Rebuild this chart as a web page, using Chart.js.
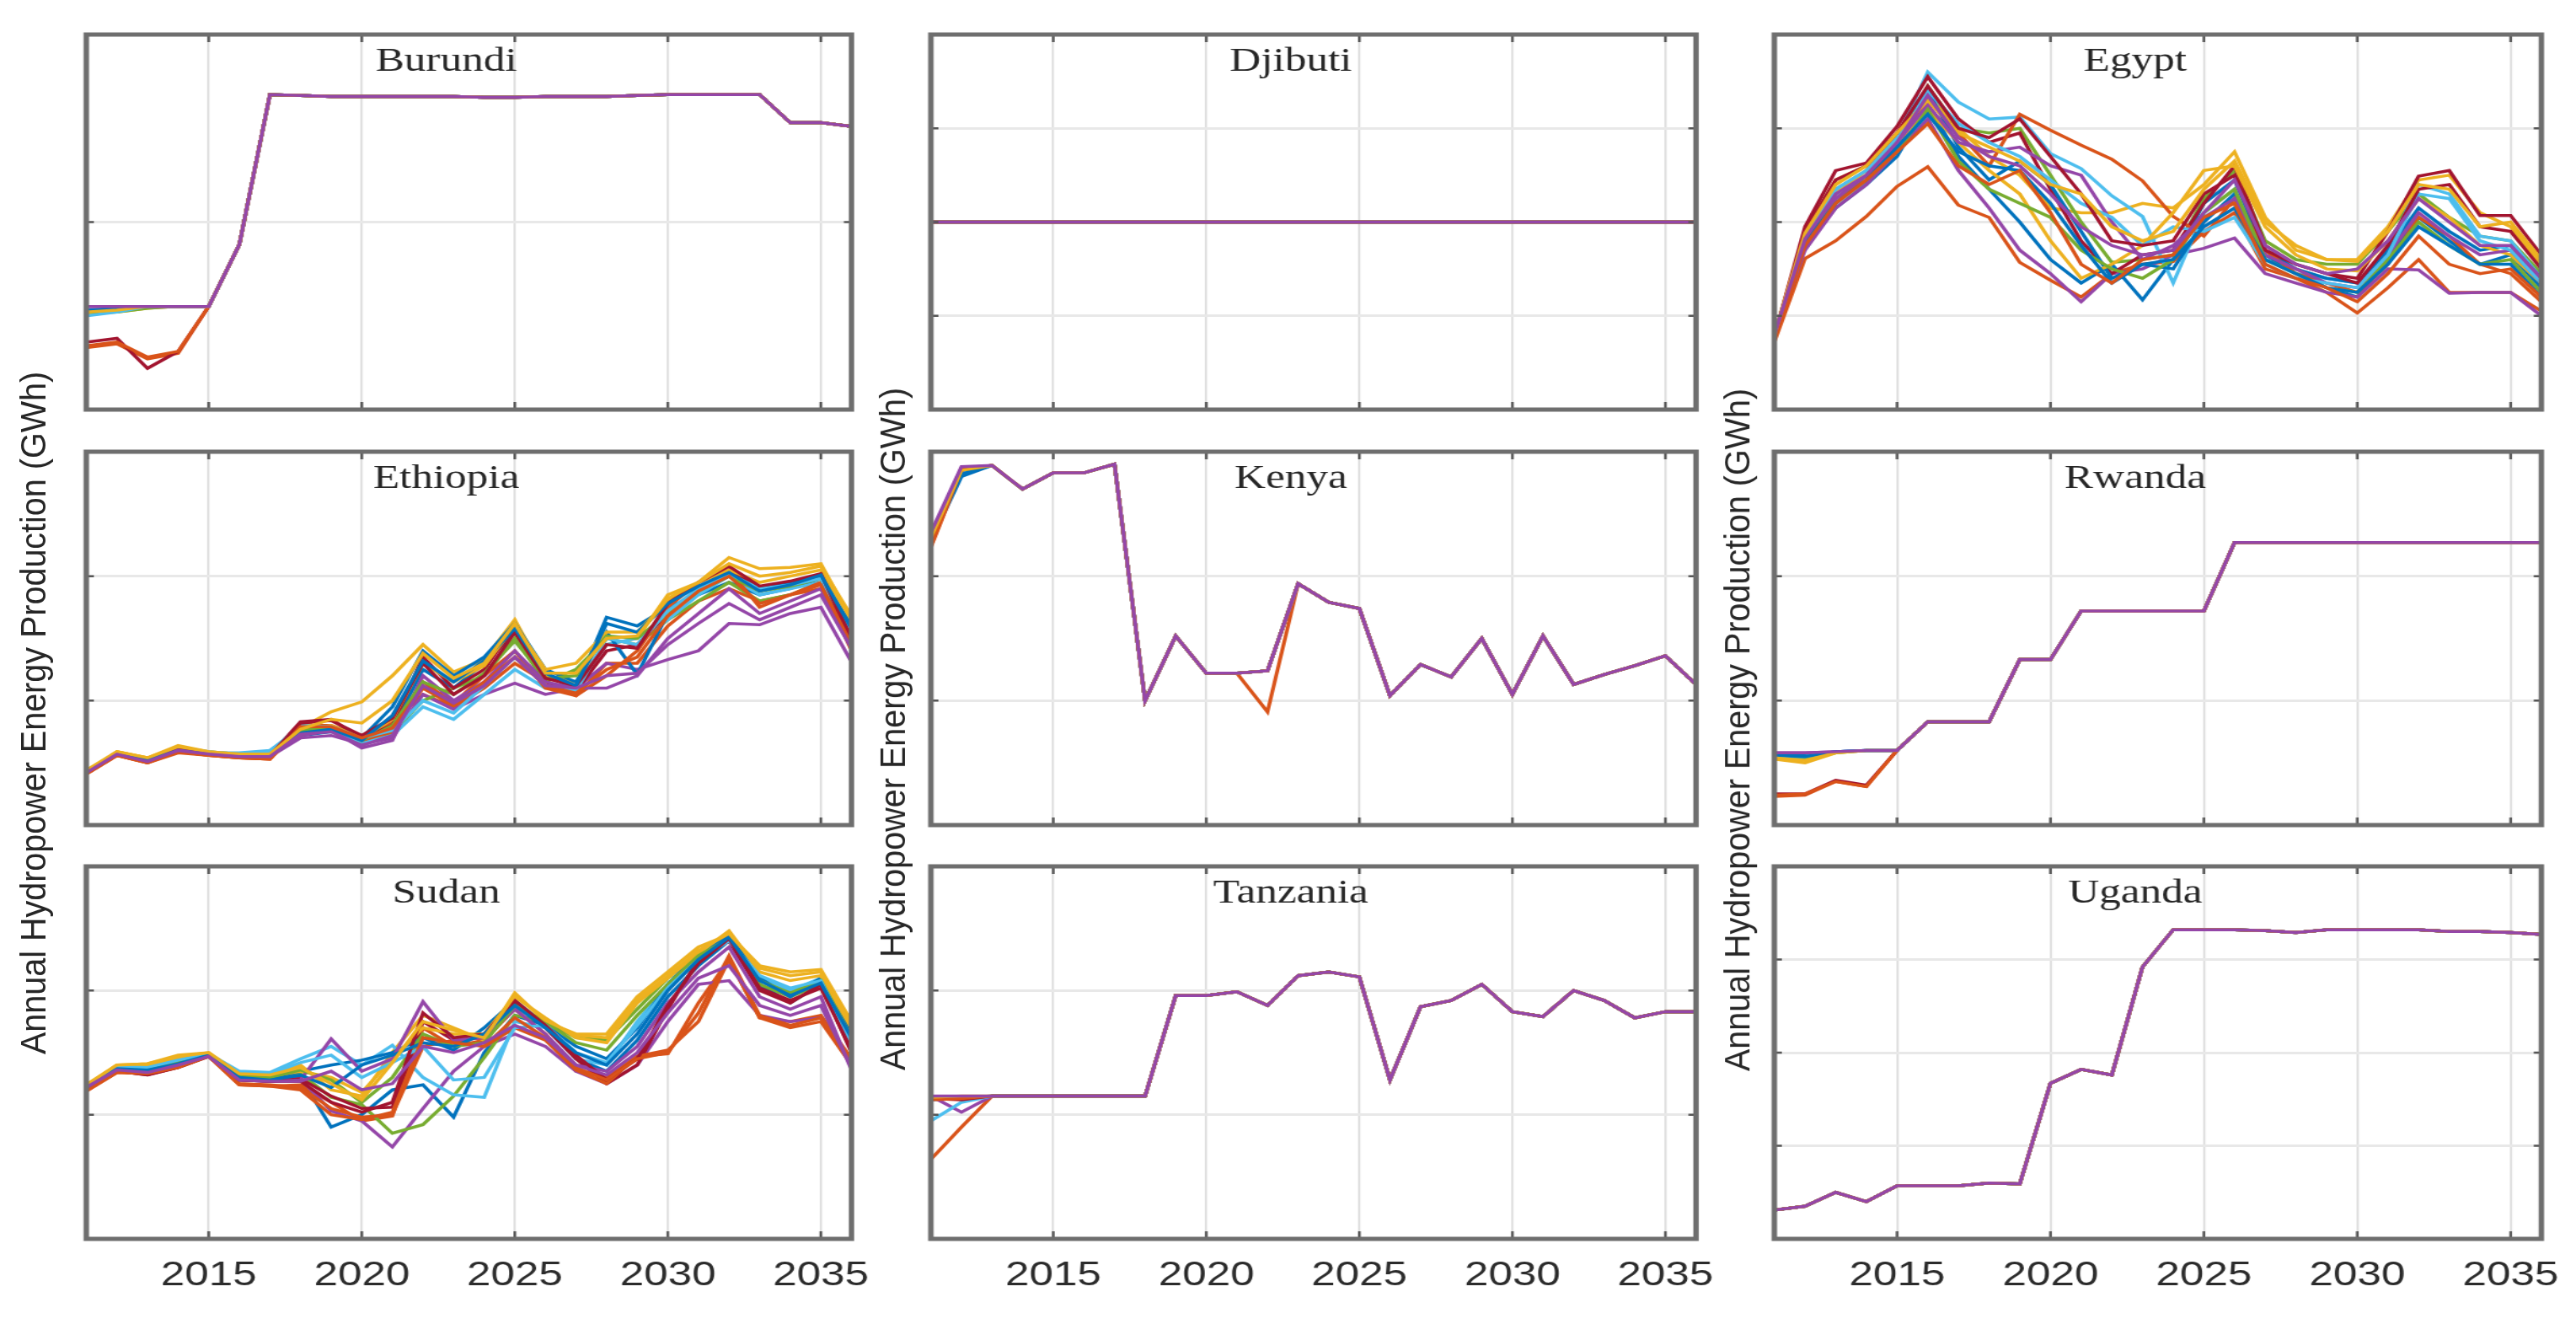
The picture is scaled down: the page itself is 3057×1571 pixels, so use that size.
<!DOCTYPE html>
<html>
<head>
<meta charset="utf-8">
<script src="https://cdn.jsdelivr.net/npm/chart.js@4.4.1/dist/chart.umd.min.js"></script>
<style>
html, body { margin: 0; padding: 0; background: #fff; }
#fig { position: absolute; left: 0; top: 0; width: 2388px; height: 1571px; transform: scaleX(1.28); transform-origin: 0 0; }
.panel { position: absolute; }
.ylab { position: absolute; font-family: "Liberation Sans", Arial, sans-serif; font-size: 39.5px; color: #262626; white-space: nowrap; transform: translate(-50%, -50%) rotate(-90deg) scaleY(0.83); }
</style>
</head>
<body>
<div id="fig"></div>
<script>
// the picture is stretched sideways, so everything is laid out narrower and scaled
const STRETCH = 1.28;

const years = [2011, 2012, 2013, 2014, 2015, 2016, 2017, 2018, 2019, 2020, 2021, 2022, 2023,
               2024, 2025, 2026, 2027, 2028, 2029, 2030, 2031, 2032, 2033, 2034, 2035, 2036];
const yearTicks = [2015, 2020, 2025, 2030, 2035];
const yTitle = 'Annual Hydropower Energy Production (GWh)';
const lineColors = ['#0072BD', '#D95319', '#EDB120', '#9446A8', '#77AC30', '#4DBEEE', '#A2142F'];

// y values are in grid units (no tick labels in the original)
const burundiMain = [0.55, 0.55, 0.55, 0.55, 0.55, 0.88, 1.68, 1.675, 1.67, 1.67, 1.67, 1.67, 1.67,
                     1.665, 1.665, 1.67, 1.67, 1.67, 1.675, 1.68, 1.68, 1.68, 1.68, 1.53, 1.53, 1.51];
const burundiStart = [
  [0.52, 0.53, 0.55, 0.55], [0.33, 0.35, 0.27, 0.30], [0.51, 0.52, 0.54, 0.55], [0.55, 0.55, 0.55, 0.55],
  [0.52, 0.52, 0.54, 0.55], [0.50, 0.52, 0.55, 0.55], [0.36, 0.38, 0.22, 0.31], [0.53, 0.54, 0.55, 0.55],
  [0.34, 0.36, 0.28, 0.31], [0.52, 0.53, 0.55, 0.55], [0.55, 0.55, 0.55, 0.55]
];

const djibutiMain = [2, 2, 2, 2, 2, 2, 2, 2, 2, 2, 2, 2, 2, 2, 2, 2, 2, 2, 2, 2, 2, 2, 2, 2, 2, 2];

const egyptRuns = [
  [0.78, 1.75, 2.15, 2.40, 2.70, 3.25, 2.70, 2.35, 2.00, 1.60, 1.35, 1.55, 1.17, 1.60, 2.20, 2.45, 1.65, 1.45, 1.30, 1.20, 1.60, 2.05, 1.80, 1.55, 1.65, 1.30],
  [0.72, 1.61, 1.80, 2.06, 2.38, 2.59, 2.18, 2.05, 1.57, 1.38, 1.20, 1.45, 1.55, 1.58, 1.90, 2.10, 1.50, 1.40, 1.25, 1.03, 1.30, 1.60, 1.25, 1.25, 1.25, 1.05],
  [0.80, 1.90, 2.45, 2.60, 2.95, 3.35, 3.00, 2.70, 2.50, 2.15, 2.10, 2.10, 2.20, 2.15, 2.40, 2.75, 2.05, 1.70, 1.60, 1.60, 1.95, 2.45, 2.50, 2.10, 1.95, 1.55],
  [0.82, 1.70, 2.15, 2.40, 2.75, 3.10, 2.55, 2.15, 1.70, 1.45, 1.15, 1.45, 1.50, 1.65, 1.72, 1.83, 1.45, 1.35, 1.25, 1.20, 1.50, 1.49, 1.24, 1.25, 1.25, 1.00],
  [0.80, 1.85, 2.35, 2.55, 2.90, 3.45, 3.00, 2.95, 3.00, 2.50, 2.00, 1.57, 1.60, 1.65, 2.25, 2.55, 1.80, 1.60, 1.55, 1.55, 1.90, 2.30, 2.05, 1.85, 1.80, 1.45],
  [0.80, 1.85, 2.35, 2.55, 2.90, 3.60, 3.28, 3.10, 3.12, 2.73, 2.57, 2.28, 2.06, 1.35, 2.10, 2.35, 1.60, 1.45, 1.40, 1.35, 1.70, 2.40, 2.30, 1.85, 1.80, 1.40],
  [0.78, 1.95, 2.55, 2.63, 3.02, 3.55, 3.10, 2.85, 2.95, 2.35, 1.80, 1.45, 1.65, 1.70, 2.20, 2.60, 1.75, 1.55, 1.45, 1.40, 1.90, 2.49, 2.55, 2.07, 2.07, 1.65],
  [0.80, 1.80, 2.25, 2.50, 2.80, 3.40, 2.80, 2.45, 2.65, 2.40, 1.90, 1.40, 1.55, 1.50, 2.00, 2.30, 1.70, 1.50, 1.40, 1.35, 1.70, 2.15, 1.90, 1.70, 1.75, 1.40],
  [0.78, 1.80, 2.25, 2.45, 2.80, 3.30, 2.95, 2.60, 3.15, 2.98, 2.82, 2.67, 2.44, 2.06, 1.85, 2.25, 1.70, 1.45, 1.35, 1.25, 1.55, 2.05, 1.85, 1.55, 1.45, 1.15],
  [0.80, 1.85, 2.30, 2.55, 2.85, 3.20, 2.85, 2.55, 2.30, 1.80, 1.40, 1.55, 1.75, 2.10, 2.55, 2.60, 1.95, 1.65, 1.50, 1.48, 1.80, 2.25, 2.05, 1.75, 1.65, 1.35],
  [0.80, 1.80, 2.25, 2.50, 2.85, 3.25, 2.85, 2.75, 2.80, 2.60, 2.50, 2.00, 1.60, 1.75, 2.05, 2.25, 1.65, 1.50, 1.35, 1.30, 1.65, 2.10, 1.85, 1.65, 1.70, 1.35],
  [0.78, 1.78, 2.20, 2.45, 2.75, 3.20, 2.65, 2.35, 2.20, 2.05, 1.70, 1.50, 1.40, 1.60, 2.10, 2.35, 1.60, 1.45, 1.30, 1.25, 1.60, 2.00, 1.75, 1.55, 1.60, 1.25],
  [0.80, 1.85, 2.35, 2.55, 2.85, 3.40, 3.05, 2.85, 2.70, 2.45, 2.20, 2.05, 1.75, 1.95, 1.90, 2.05, 1.55, 1.40, 1.35, 1.30, 1.65, 2.30, 2.25, 1.80, 1.70, 1.35],
  [0.78, 1.90, 2.45, 2.60, 2.95, 3.45, 3.00, 2.90, 3.10, 2.70, 2.30, 1.80, 1.75, 1.80, 2.30, 2.50, 1.70, 1.55, 1.45, 1.35, 1.75, 2.35, 2.40, 1.95, 1.90, 1.50],
  [0.80, 1.78, 2.20, 2.45, 2.80, 3.15, 2.75, 2.60, 2.55, 2.20, 1.75, 1.35, 1.55, 1.60, 1.95, 2.15, 1.60, 1.45, 1.30, 1.25, 1.55, 1.95, 1.75, 1.55, 1.55, 1.20],
  [0.76, 1.75, 2.20, 2.45, 2.75, 3.05, 2.60, 2.40, 2.55, 2.10, 1.55, 1.35, 1.60, 1.65, 2.05, 2.20, 1.55, 1.40, 1.30, 1.15, 1.45, 1.85, 1.55, 1.45, 1.50, 1.20],
  [0.80, 1.88, 2.40, 2.60, 2.95, 3.30, 2.95, 2.80, 2.65, 2.40, 2.30, 1.95, 1.80, 1.90, 2.35, 2.65, 2.00, 1.75, 1.60, 1.58, 1.90, 2.40, 2.35, 1.95, 2.00, 1.60],
  [0.80, 1.82, 2.30, 2.50, 2.85, 3.35, 2.90, 2.70, 2.60, 2.30, 1.95, 1.75, 1.65, 1.70, 2.10, 2.45, 1.75, 1.55, 1.45, 1.50, 1.80, 2.25, 2.00, 1.75, 1.75, 1.40]
];

const ethiopiaRuns = [
  [0.42, 0.58, 0.52, 0.61, 0.58, 0.56, 0.56, 0.72, 0.75, 0.66, 0.78, 1.25, 1.10, 1.30, 1.55, 1.20, 1.10, 1.67, 1.60, 1.75, 1.85, 1.95, 1.85, 1.90, 1.98, 1.55],
  [0.41, 0.56, 0.50, 0.59, 0.56, 0.54, 0.53, 0.80, 0.80, 0.72, 0.82, 1.05, 0.95, 1.10, 1.30, 1.15, 1.04, 1.30, 1.30, 1.60, 1.80, 1.90, 1.80, 1.85, 1.90, 1.50],
  [0.44, 0.59, 0.54, 0.63, 0.59, 0.57, 0.57, 0.78, 0.91, 0.99, 1.20, 1.45, 1.23, 1.33, 1.65, 1.20, 1.15, 1.45, 1.50, 1.85, 1.95, 2.15, 2.06, 2.07, 2.10, 1.65],
  [0.42, 0.57, 0.51, 0.60, 0.57, 0.55, 0.55, 0.70, 0.72, 0.65, 0.70, 1.05, 0.93, 1.05, 1.14, 1.05, 1.10, 1.30, 1.25, 1.33, 1.40, 1.62, 1.61, 1.70, 1.75, 1.31],
  [0.42, 0.58, 0.52, 0.61, 0.58, 0.56, 0.56, 0.74, 0.76, 0.67, 0.74, 1.00, 1.10, 1.20, 1.50, 1.15, 1.25, 1.50, 1.45, 1.65, 1.80, 1.95, 1.80, 1.85, 1.95, 1.55],
  [0.42, 0.58, 0.52, 0.61, 0.58, 0.58, 0.60, 0.78, 0.76, 0.67, 0.72, 0.95, 0.85, 1.05, 1.25, 1.10, 1.12, 1.45, 1.50, 1.65, 1.85, 2.00, 1.85, 1.90, 1.95, 1.50],
  [0.42, 0.58, 0.51, 0.62, 0.58, 0.56, 0.56, 0.83, 0.85, 0.70, 0.80, 1.35, 1.10, 1.25, 1.60, 1.15, 1.08, 1.40, 1.45, 1.70, 1.90, 2.05, 1.90, 1.95, 2.00, 1.45],
  [0.42, 0.57, 0.52, 0.60, 0.57, 0.55, 0.56, 0.75, 0.78, 0.70, 0.95, 1.40, 1.20, 1.35, 1.62, 1.25, 1.15, 1.55, 1.21, 1.70, 1.90, 2.00, 1.90, 1.95, 2.00, 1.60],
  [0.41, 0.56, 0.50, 0.58, 0.56, 0.54, 0.53, 0.78, 0.78, 0.68, 0.75, 1.15, 0.98, 1.20, 1.40, 1.10, 1.04, 1.20, 1.40, 1.75, 1.95, 2.05, 1.75, 1.85, 1.95, 1.40],
  [0.43, 0.59, 0.54, 0.64, 0.59, 0.57, 0.57, 0.76, 0.80, 0.70, 0.85, 1.30, 1.15, 1.28, 1.60, 1.25, 1.30, 1.55, 1.55, 1.80, 1.95, 2.05, 1.95, 2.00, 2.05, 1.65],
  [0.42, 0.57, 0.51, 0.60, 0.57, 0.55, 0.55, 0.72, 0.76, 0.62, 0.68, 1.20, 1.00, 1.15, 1.40, 1.15, 1.10, 1.10, 1.20, 1.50, 1.70, 1.90, 1.70, 1.80, 1.90, 1.45],
  [0.42, 0.58, 0.52, 0.61, 0.58, 0.56, 0.56, 0.76, 0.78, 0.68, 0.80, 1.15, 1.05, 1.22, 1.48, 1.18, 1.20, 1.52, 1.50, 1.70, 1.88, 2.00, 1.88, 1.92, 1.98, 1.58],
  [0.42, 0.58, 0.53, 0.62, 0.59, 0.57, 0.59, 0.80, 0.79, 0.70, 0.76, 1.00, 0.90, 1.12, 1.35, 1.12, 1.08, 1.50, 1.45, 1.72, 1.90, 2.02, 1.90, 1.93, 1.98, 1.55],
  [0.42, 0.58, 0.52, 0.61, 0.58, 0.56, 0.56, 0.82, 0.84, 0.72, 0.86, 1.30, 1.05, 1.20, 1.55, 1.18, 1.12, 1.45, 1.42, 1.78, 1.95, 2.08, 1.92, 1.96, 2.02, 1.50],
  [0.42, 0.57, 0.52, 0.60, 0.57, 0.55, 0.55, 0.74, 0.77, 0.68, 0.88, 1.32, 1.15, 1.32, 1.58, 1.22, 1.12, 1.62, 1.55, 1.78, 1.92, 2.03, 1.88, 1.93, 2.01, 1.58],
  [0.41, 0.56, 0.50, 0.59, 0.56, 0.54, 0.53, 0.79, 0.79, 0.70, 0.78, 1.10, 0.96, 1.15, 1.35, 1.12, 1.06, 1.25, 1.35, 1.68, 1.88, 2.00, 1.78, 1.85, 1.93, 1.45],
  [0.43, 0.59, 0.54, 0.63, 0.59, 0.57, 0.57, 0.77, 0.85, 0.82, 1.00, 1.38, 1.18, 1.30, 1.62, 1.22, 1.22, 1.50, 1.52, 1.82, 1.95, 2.10, 2.00, 2.03, 2.08, 1.68],
  [0.42, 0.57, 0.51, 0.60, 0.57, 0.55, 0.55, 0.73, 0.75, 0.64, 0.72, 1.12, 0.98, 1.12, 1.35, 1.12, 1.10, 1.20, 1.22, 1.45, 1.62, 1.78, 1.65, 1.75, 1.85, 1.42]
];

const kenyaMain = [2.35, 2.88, 2.89, 2.70, 2.83, 2.83, 2.90, 1.00, 1.52, 1.22, 1.22, 1.24, 1.94,
                   1.79, 1.74, 1.04, 1.29, 1.19, 1.50, 1.05, 1.52, 1.13, 1.21, 1.28, 1.36, 1.13];
const kenyaOrange = [2.23, 2.85, 2.89, 2.70, 2.83, 2.83, 2.90, 1.00, 1.52, 1.22, 1.22, 0.91, 1.94,
                     1.79, 1.74, 1.04, 1.29, 1.19, 1.50, 1.05, 1.52, 1.13, 1.21, 1.28, 1.36, 1.13];
const kenyaStart = [
  [2.28, 2.80], [2.23, 2.85], [2.30, 2.84], [2.33, 2.87], [2.32, 2.86], [2.30, 2.83],
  [2.27, 2.85], [2.29, 2.82], [2.24, 2.86], [2.31, 2.85], [2.35, 2.88]
];

const rwandaMain = [0.58, 0.58, 0.59, 0.60, 0.60, 0.83, 0.83, 0.83, 1.33, 1.33, 1.72, 1.72, 1.72,
                    1.72, 1.72, 2.27, 2.27, 2.27, 2.27, 2.27, 2.27, 2.27, 2.27, 2.27, 2.27, 2.27];
const rwandaStart = [
  [0.57, 0.56, 0.59, 0.60], [0.23, 0.24, 0.35, 0.31], [0.53, 0.50, 0.58, 0.60], [0.58, 0.58, 0.59, 0.60],
  [0.55, 0.54, 0.58, 0.60], [0.55, 0.55, 0.59, 0.60], [0.25, 0.25, 0.36, 0.32], [0.56, 0.55, 0.59, 0.60],
  [0.24, 0.25, 0.35, 0.31], [0.54, 0.52, 0.58, 0.60], [0.58, 0.58, 0.59, 0.60]
];

const sudanRuns = [
  [1.22, 1.37, 1.36, 1.41, 1.48, 1.30, 1.28, 1.30, 0.90, 1.00, 1.20, 1.24, 0.98, 1.50, 1.80, 1.72, 1.45, 1.35, 1.60, 1.95, 2.20, 2.40, 2.05, 1.90, 2.05, 1.60],
  [1.19, 1.34, 1.33, 1.38, 1.47, 1.24, 1.23, 1.24, 1.10, 0.95, 0.99, 1.70, 1.55, 1.60, 1.85, 1.65, 1.35, 1.30, 1.47, 1.49, 1.90, 2.25, 1.78, 1.75, 1.80, 1.45],
  [1.24, 1.40, 1.41, 1.48, 1.50, 1.33, 1.32, 1.40, 1.20, 1.15, 1.50, 1.80, 1.70, 1.60, 1.98, 1.75, 1.65, 1.65, 1.95, 2.15, 2.35, 2.45, 2.20, 2.15, 2.17, 1.75],
  [1.21, 1.36, 1.33, 1.39, 1.47, 1.28, 1.27, 1.29, 1.03, 0.95, 0.74, 1.05, 1.35, 1.55, 1.65, 1.55, 1.35, 1.25, 1.40, 1.75, 2.05, 2.08, 1.80, 1.75, 1.78, 1.40],
  [1.22, 1.38, 1.36, 1.42, 1.48, 1.31, 1.30, 1.33, 1.14, 1.08, 0.85, 0.92, 1.15, 1.46, 1.80, 1.75, 1.62, 1.60, 1.85, 2.10, 2.30, 2.40, 2.05, 1.95, 2.05, 1.65],
  [1.23, 1.39, 1.38, 1.45, 1.49, 1.35, 1.34, 1.45, 1.55, 1.40, 1.56, 1.30, 1.16, 1.14, 1.75, 1.70, 1.45, 1.40, 1.75, 2.05, 2.30, 2.42, 2.10, 2.00, 2.10, 1.60],
  [1.20, 1.35, 1.32, 1.38, 1.47, 1.28, 1.27, 1.29, 1.15, 1.05, 1.06, 1.75, 1.60, 1.62, 1.90, 1.70, 1.45, 1.25, 1.40, 1.85, 2.25, 2.40, 2.00, 1.90, 2.05, 1.50],
  [1.22, 1.37, 1.35, 1.42, 1.48, 1.30, 1.29, 1.35, 1.40, 1.44, 1.50, 1.62, 1.52, 1.70, 1.92, 1.72, 1.55, 1.45, 1.70, 2.05, 2.30, 2.45, 2.10, 1.95, 2.10, 1.65],
  [1.19, 1.35, 1.33, 1.39, 1.47, 1.25, 1.24, 1.22, 1.05, 0.98, 1.00, 1.55, 1.60, 1.55, 1.70, 1.60, 1.36, 1.25, 1.47, 1.52, 1.75, 2.25, 1.78, 1.70, 1.75, 1.40],
  [1.23, 1.40, 1.40, 1.46, 1.49, 1.32, 1.31, 1.35, 1.30, 1.18, 1.45, 1.70, 1.65, 1.65, 1.95, 1.78, 1.62, 1.58, 1.90, 2.10, 2.30, 2.48, 2.15, 2.08, 2.12, 1.70],
  [1.22, 1.37, 1.35, 1.40, 1.47, 1.28, 1.27, 1.28, 1.61, 1.35, 1.45, 1.91, 1.60, 1.62, 1.85, 1.65, 1.40, 1.35, 1.55, 1.90, 2.15, 2.35, 1.95, 1.85, 1.95, 1.36],
  [1.22, 1.38, 1.36, 1.42, 1.48, 1.31, 1.30, 1.36, 1.28, 1.10, 1.30, 1.65, 1.55, 1.58, 1.88, 1.75, 1.58, 1.52, 1.80, 2.05, 2.28, 2.42, 2.08, 1.98, 2.08, 1.62],
  [1.23, 1.39, 1.38, 1.44, 1.49, 1.34, 1.33, 1.42, 1.48, 1.30, 1.42, 1.55, 1.28, 1.30, 1.70, 1.72, 1.50, 1.42, 1.72, 2.02, 2.25, 2.40, 2.12, 2.02, 2.08, 1.58],
  [1.20, 1.35, 1.32, 1.38, 1.47, 1.28, 1.27, 1.27, 1.10, 1.02, 1.10, 1.82, 1.62, 1.65, 1.92, 1.72, 1.48, 1.28, 1.45, 1.88, 2.22, 2.42, 2.02, 1.92, 2.02, 1.52],
  [1.22, 1.37, 1.36, 1.41, 1.48, 1.30, 1.28, 1.32, 1.22, 1.40, 1.48, 1.58, 1.55, 1.65, 1.88, 1.70, 1.50, 1.40, 1.65, 2.00, 2.25, 2.43, 2.08, 1.96, 2.06, 1.62],
  [1.19, 1.34, 1.33, 1.38, 1.47, 1.24, 1.23, 1.20, 1.00, 0.96, 1.02, 1.62, 1.58, 1.55, 1.78, 1.62, 1.38, 1.28, 1.45, 1.50, 1.82, 2.28, 1.80, 1.72, 1.78, 1.42],
  [1.24, 1.40, 1.41, 1.47, 1.50, 1.33, 1.32, 1.38, 1.25, 1.12, 1.42, 1.75, 1.68, 1.62, 1.96, 1.76, 1.64, 1.62, 1.92, 2.12, 2.32, 2.46, 2.18, 2.12, 2.15, 1.72],
  [1.22, 1.36, 1.34, 1.40, 1.47, 1.28, 1.27, 1.27, 1.35, 1.20, 1.25, 1.55, 1.50, 1.58, 1.72, 1.62, 1.40, 1.32, 1.50, 1.82, 2.10, 2.20, 1.88, 1.80, 1.88, 1.38]
];

const tanzaniaMain = [1.15, 1.15, 1.15, 1.15, 1.15, 1.15, 1.15, 1.15, 1.96, 1.96, 1.99, 1.88, 2.12,
                      2.15, 2.11, 1.28, 1.87, 1.92, 2.05, 1.83, 1.79, 2.00, 1.92, 1.78, 1.83, 1.83];
const tanzaniaStart = [
  [1.12, 1.13], [0.64, 0.90], [1.13, 1.14], [1.15, 1.02], [1.14, 1.14], [0.95, 1.10],
  [1.13, 1.12], [1.14, 1.14], [1.12, 1.13], [1.14, 1.15], [1.15, 1.15]
];

const ugandaMain = [0.31, 0.35, 0.50, 0.40, 0.57, 0.57, 0.57, 0.60, 0.59, 1.67, 1.82, 1.76, 2.92,
                    3.32, 3.32, 3.32, 3.31, 3.29, 3.32, 3.32, 3.32, 3.32, 3.30, 3.30, 3.29, 3.27];

function joinStart(start, main) {
  return start.concat(main.slice(start.length));
}

const kenyaRuns = kenyaStart.map(s => joinStart(s, kenyaMain));
kenyaRuns[1] = kenyaOrange;

const panels = [
  { name: 'Burundi',  col: 0, row: 0, div: 2, runs: burundiStart.map(s => joinStart(s, burundiMain)) },
  { name: 'Djibuti',  col: 1, row: 0, div: 4, runs: Array(11).fill(djibutiMain) },
  { name: 'Egypt',    col: 2, row: 0, div: 4, runs: egyptRuns },
  { name: 'Ethiopia', col: 0, row: 1, div: 3, runs: ethiopiaRuns },
  { name: 'Kenya',    col: 1, row: 1, div: 3, runs: kenyaRuns },
  { name: 'Rwanda',   col: 2, row: 1, div: 3, runs: rwandaStart.map(s => joinStart(s, rwandaMain)) },
  { name: 'Sudan',    col: 0, row: 2, div: 3, runs: sudanRuns },
  { name: 'Tanzania', col: 1, row: 2, div: 3, runs: tanzaniaStart.map(s => joinStart(s, tanzaniaMain)) },
  { name: 'Uganda',   col: 2, row: 2, div: 4, runs: Array(11).fill(ugandaMain) }
];

// panel boxes in picture pixels
const colLeft = [102, 1104, 2106];
const colRight = [1010, 2012, 3015];
const rowTop = [41, 536, 1028];
const rowBottom = [486, 979, 1470];
const yLabelPos = [[40, 846], [1060, 865], [2062, 866]];

const fig = document.getElementById('fig');

// box, inward tick marks and the title inside the axes, like matlab
const panelFrame = {
  id: 'panelFrame',
  afterDraw(chart, args, opts) {
    const { ctx, chartArea: a, scales } = chart;
    ctx.save();
    ctx.strokeStyle = '#555';
    ctx.lineWidth = 2.5;
    ctx.beginPath();
    yearTicks.forEach(v => {
      const x = scales.x.getPixelForValue(v);
      ctx.moveTo(x, a.bottom); ctx.lineTo(x, a.bottom - 9);
      ctx.moveTo(x, a.top); ctx.lineTo(x, a.top + 9);
    });
    scales.y.ticks.forEach(t => {
      const y = scales.y.getPixelForValue(t.value);
      ctx.moveTo(a.left, y); ctx.lineTo(a.left + 7, y);
      ctx.moveTo(a.right, y); ctx.lineTo(a.right - 7, y);
    });
    ctx.stroke();
    ctx.strokeStyle = '#6e6e6e';
    ctx.lineWidth = 5;
    ctx.strokeRect(a.left, a.top, a.right - a.left, a.bottom - a.top);
    ctx.fillStyle = '#262626';
    ctx.font = '40px "Liberation Serif", "Times New Roman", serif';
    ctx.textAlign = 'center';
    ctx.textBaseline = 'alphabetic';
    ctx.fillText(opts.text, (a.left + a.right) / 2 - 21, a.top + 43);
    ctx.restore();
  }
};

function addPanel(p) {
  const padL = 12, padR = 50, padT = 12, padB = 12;
  const bottomRow = p.row === 2;
  const axisH = bottomRow ? 80 : 0;
  const left = colLeft[p.col] / STRETCH;
  const w = colRight[p.col] / STRETCH - left;
  const h = rowBottom[p.row] - rowTop[p.row];

  const box = document.createElement('div');
  box.className = 'panel';
  box.style.left = (left - padL) + 'px';
  box.style.top = (rowTop[p.row] - padT) + 'px';
  box.style.width = (w + padL + padR) + 'px';
  box.style.height = (h + padT + padB + axisH) + 'px';
  const cv = document.createElement('canvas');
  box.appendChild(cv);
  fig.appendChild(box);

  // last run drawn on top, as in the original
  const datasets = p.runs.map((run, i) => ({
    data: run.map((v, k) => ({ x: years[k], y: v })),
    borderColor: lineColors[i % lineColors.length],
    borderWidth: 3.5,
    order: p.runs.length - i
  }));

  new Chart(cv, {
    type: 'line',
    data: { datasets: datasets },
    plugins: [panelFrame],
    options: {
      responsive: true,
      maintainAspectRatio: false,
      animation: false,
      layout: { padding: { left: padL, right: padR, top: padT, bottom: padB } },
      elements: { point: { radius: 0 }, line: { tension: 0 } },
      plugins: {
        legend: { display: false },
        tooltip: { enabled: false },
        panelFrame: { text: p.name }
      },
      scales: {
        x: {
          type: 'linear',
          min: 2011,
          max: 2036,
          afterBuildTicks: s => { s.ticks = yearTicks.map(v => ({ value: v })); },
          afterFit: s => { s.height = axisH; },
          border: { display: false },
          grid: { color: '#e0e0e0', lineWidth: 2.2, drawTicks: false },
          ticks: {
            display: bottomRow,
            padding: 20,
            maxRotation: 0,
            autoSkip: false,
            color: '#2b2b2b',
            font: { family: '"Liberation Sans", Arial, sans-serif', size: 40 },
            callback: v => String(v)
          }
        },
        y: {
          min: 0,
          max: p.div,
          afterFit: s => { s.width = 0; },
          border: { display: false },
          grid: { color: '#e8e8e8', lineWidth: 3, drawTicks: false },
          ticks: { display: false, stepSize: 1 }
        }
      }
    }
  });
}

panels.forEach(addPanel);

yLabelPos.forEach(([x, y]) => {
  const lab = document.createElement('div');
  lab.className = 'ylab';
  lab.textContent = yTitle;
  lab.style.left = (x / STRETCH) + 'px';
  lab.style.top = y + 'px';
  fig.appendChild(lab);
});
</script>
</body>
</html>
